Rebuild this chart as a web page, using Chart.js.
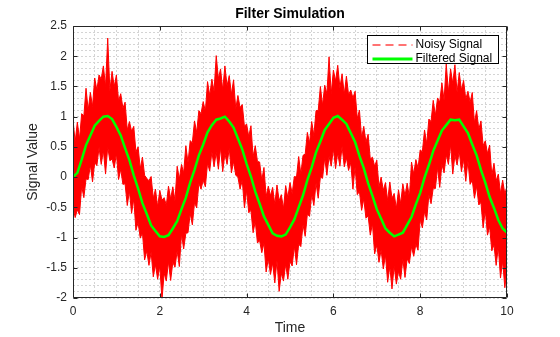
<!DOCTYPE html>
<html lang="en">
<head>
<meta charset="UTF-8">
<title>Filter Simulation</title>
<script src="https://cdn.jsdelivr.net/npm/chart.js"></script>
<style>
    html, body { margin: 0; padding: 0; background: #fff; }
    #chart { display: block; }
</style>
</head>
<body>
<canvas id="chart" width="560" height="337"></canvas>
<script>
    // samples every 0.1 s from 0 to 10
    const step = 0.1;

    // filtered signal
    const filtered = [
        0.00, 0.07, 0.29, 0.53, 0.69, 0.85, 0.93, 1.00, 1.01, 0.96,
        0.83, 0.69, 0.48, 0.28, 0.03, -0.19, -0.43, -0.61, -0.80, -0.89,
        -0.98, -0.99, -0.96, -0.85, -0.73, -0.53, -0.34, -0.09, 0.12, 0.36,
        0.54, 0.74, 0.86, 0.95, 0.97, 1.00, 0.92, 0.82, 0.64, 0.46,
        0.22, 0.01, -0.24, -0.44, -0.65, -0.79, -0.93, -0.97, -0.98, -0.95,
        -0.83, -0.70, -0.50, -0.30, -0.05, 0.16, 0.41, 0.59, 0.78, 0.88,
        0.98, 1.01, 0.95, 0.88, 0.73, 0.58, 0.35, 0.15, -0.10, -0.31,
        -0.53, -0.69, -0.85, -0.92, -0.98, -0.95, -0.92, -0.79, -0.66, -0.45,
        -0.26, -0.01, 0.20, 0.43, 0.60, 0.77, 0.86, 0.95, 0.94, 0.95,
        0.84, 0.73, 0.54, 0.36, 0.12, -0.09, -0.33, -0.51, -0.71, -0.85,
        -0.92
    ];

    // noisy signal, top edge of the red band
    // spikes at t = 0, 0.1, ...
    const noisyHigh = [
        0.95, 0.91, 1.05, 1.47, 1.40, 1.64, 1.69, 1.84, 2.30, 1.75,
        1.69, 1.38, 1.24, 0.92, 0.84, 0.50, 0.33, -0.02, 0.01, -0.20,
        -0.22, -0.34, -0.15, -0.16, 0.18, 0.21, 0.52, 0.60, 0.93, 1.10,
        1.25, 1.58, 1.62, 2.01, 1.79, 1.84, 1.68, 1.61, 1.35, 1.20,
        0.88, 0.85, 0.52, 0.25, 0.16, -0.15, -0.17, -0.13, -0.29, -0.14,
        -0.09, 0.01, 0.34, 0.36, 0.74, 0.92, 1.10, 1.50, 1.52, 1.99,
        1.77, 1.85, 1.71, 1.67, 1.44, 1.42, 1.11, 0.84, 0.71, 0.33,
        0.28, 0.00, -0.09, -0.08, -0.27, -0.21, -0.11, -0.10, 0.25, 0.29,
        0.45, 0.78, 0.96, 1.27, 1.31, 1.56, 1.87, 1.79, 1.86, 1.73,
        1.60, 1.42, 1.40, 1.10, 0.93, 0.60, 0.53, 0.23, 0.05, -0.05,
        -0.15
    ];
    // dips between them at t = 0.05, 0.15, ...
    const noisyHighDip = [
        0.58, 0.63, 1.01, 1.11, 1.17, 1.44, 1.62, 1.50, 1.43, 1.50,
        1.26, 1.14, 0.78, 0.76, 0.42, 0.14, 0.03, -0.06, -0.35, -0.49,
        -0.38, -0.47, -0.36, -0.39, -0.03, 0.07, 0.24, 0.57, 0.74, 1.05,
        1.09, 1.35, 1.42, 1.63, 1.44, 1.51, 1.37, 1.13, 1.15, 0.84,
        0.67, 0.34, 0.26, -0.05, -0.32, -0.31, -0.45, -0.39, -0.52, -0.34,
        -0.27, 0.00, 0.05, 0.38, 0.56, 0.69, 1.10, 1.19, 1.38, 1.38,
        1.59, 1.48, 1.37, 1.36, 1.31, 0.97, 0.65, 0.58, 0.30, 0.18,
        -0.16, -0.22, -0.39, -0.35, -0.52, -0.44, -0.31, -0.33, 0.05, 0.15,
        0.42, 0.55, 0.92, 1.02, 1.24, 1.27, 1.41, 1.55, 1.40, 1.44,
        1.29, 1.24, 0.90, 0.79, 0.52, 0.39, 0.03, -0.06, -0.27, -0.28
    ];

    // noisy signal, bottom edge of the red band
    // spikes at t = 0.05, 0.15, ...
    const noisyLow = [
        -0.67, -0.62, -0.34, -0.04, -0.08, 0.19, 0.21, 0.05, 0.27, 0.15,
        -0.04, -0.12, -0.47, -0.60, -0.88, -1.01, -1.37, -1.46, -1.65, -1.69,
        -2.03, -1.72, -1.71, -1.49, -1.48, -1.19, -0.92, -0.79, -0.51, -0.20,
        -0.16, 0.10, 0.17, 0.13, 0.09, 0.21, 0.07, 0.03, -0.20, -0.51,
        -0.59, -0.92, -1.09, -1.25, -1.57, -1.61, -1.75, -1.89, -1.72, -1.69,
        -1.47, -1.45, -1.15, -0.98, -0.65, -0.47, -0.35, -0.02, 0.03, 0.18,
        0.14, 0.18, 0.17, 0.11, -0.20, -0.29, -0.55, -0.68, -0.96, -1.27,
        -1.41, -1.52, -1.74, -1.85, -1.77, -1.69, -1.66, -1.43, -1.31, -1.21,
        -0.84, -0.71, -0.44, -0.19, -0.17, 0.07, 0.21, 0.05, 0.20, 0.09,
        -0.07, -0.12, -0.35, -0.46, -0.84, -0.96, -1.22, -1.46, -1.67, -1.83
    ];
    // dips between them at t = 0, 0.1, ...
    const noisyLowDip = [
        -0.50, -0.54, -0.15, -0.03, 0.20, 0.24, 0.49, 0.44, 0.50, 0.30,
        0.39, 0.13, -0.11, -0.23, -0.36, -0.75, -0.92, -1.22, -1.24, -1.45,
        -1.47, -1.59, -1.40, -1.41, -1.22, -0.94, -0.93, -0.60, -0.42, -0.10,
        -0.05, 0.23, 0.42, 0.41, 0.49, 0.39, 0.48, 0.26, 0.00, -0.05,
        -0.22, -0.55, -0.73, -1.05, -1.09, -1.35, -1.42, -1.38, -1.59, -1.44,
        -1.39, -1.14, -1.11, -0.79, -0.61, -0.28, -0.10, 0.00, 0.32, 0.34,
        0.47, 0.40, 0.51, 0.32, 0.24, 0.17, -0.24, -0.36, -0.64, -0.77,
        -1.12, -1.20, -1.29, -1.48, -1.47, -1.56, -1.36, -1.35, -1.15, -1.11,
        -0.70, -0.57, -0.29, -0.18, 0.16, 0.21, 0.37, 0.54, 0.36, 0.43,
        0.30, 0.27, -0.05, -0.15, -0.42, -0.55, -0.82, -1.12, -1.15, -1.39,
        -1.52
    ];

    const xTickLabels = [0, 2, 4, 6, 8, 10];
    const yTickLabels = [-2, -1.5, -1, -0.5, 0, 0.5, 1, 1.5, 2, 2.5];

    const textColor = '#262626';
    const noisyColor = '#ff0000';
    const filteredColor = '#00ff00';

    // edges of the noisy band: spikes alternate with the dips between them
    function edge(onGrid, between) {
        const pts = [];
        for (let i = 0; i < onGrid.length; i++) {
            pts.push({ x: i * step, y: onGrid[i] });
            if (i < between.length) pts.push({ x: i * step + step / 2, y: between[i] });
        }
        return pts;
    }
    const noisyTop = edge(noisyHigh, noisyHighDip);
    const noisyBottom = edge(noisyLowDip, noisyLow);
    const filteredPoints = filtered.map((v, i) => ({ x: i * step, y: v }));

    function isMajor(list, value) {
        return list.some(m => Math.abs(m - value) < 1e-6);
    }

    // box, inward ticks, title and legend drawn like the matlab figure
    const framePlugin = {
        id: 'frame',
        afterDraw(chart) {
            const { ctx, chartArea: a } = chart;
            const xs = chart.scales.x;
            const ys = chart.scales.y;
            const L = Math.round(a.left) + 0.5;
            const R = Math.round(a.right) - 0.5;
            const T = Math.round(a.top) + 0.5;
            const B = Math.round(a.bottom) - 0.5;

            ctx.save();
            ctx.strokeStyle = textColor;
            ctx.lineWidth = 1;
            ctx.beginPath();
            ctx.rect(L, T, R - L, B - T);
            xTickLabels.forEach(v => {
                const px = Math.round(xs.getPixelForValue(v)) + 0.5;
                ctx.moveTo(px, B); ctx.lineTo(px, B - 4);
                ctx.moveTo(px, T); ctx.lineTo(px, T + 4);
            });
            yTickLabels.forEach(v => {
                const py = Math.round(ys.getPixelForValue(v)) + 0.5;
                ctx.moveTo(L, py); ctx.lineTo(L + 4, py);
                ctx.moveTo(R, py); ctx.lineTo(R - 4, py);
            });
            ctx.stroke();

            // title
            ctx.fillStyle = '#000';
            ctx.font = "bold 14px 'Liberation Sans', Arial, sans-serif";
            ctx.textAlign = 'center';
            ctx.textBaseline = 'middle';
            ctx.fillText('Filter Simulation', (a.left + a.right) / 2, 14);

            // legend
            const lx = Math.round(a.right) - 139.5;
            const ly = Math.round(a.top) + 9.5;
            const lw = 131, lh = 28;
            ctx.fillStyle = '#fff';
            ctx.fillRect(lx, ly, lw, lh);
            ctx.strokeStyle = '#000';
            ctx.strokeRect(lx, ly, lw, lh);

            const rows = [
                { label: chart.data.datasets[0].label, color: 'rgba(255, 50, 50, 0.9)', width: 1.5, dash: [8, 5], y: ly + 9.5 },
                { label: chart.data.datasets[2].label, color: filteredColor, width: 3, dash: [], y: ly + 23.5 }
            ];
            ctx.textAlign = 'left';
            ctx.font = "12px 'Liberation Sans', Arial, sans-serif";
            rows.forEach(r => {
                ctx.beginPath();
                ctx.setLineDash(r.dash);
                ctx.strokeStyle = r.color;
                ctx.lineWidth = r.width;
                ctx.moveTo(lx + 5, r.y);
                ctx.lineTo(lx + 45, r.y);
                ctx.stroke();
                ctx.setLineDash([]);
                ctx.fillStyle = '#000';
                ctx.fillText(r.label, lx + 48, r.y);
            });
            ctx.restore();
        }
    };

    Chart.defaults.font.family = "'Liberation Sans', Arial, sans-serif";
    Chart.defaults.color = textColor;

    const chart = new Chart(document.getElementById('chart'), {
        type: 'line',
        data: {
            datasets: [
                {
                    label: 'Noisy Signal',
                    data: noisyTop,
                    borderColor: noisyColor,
                    backgroundColor: noisyColor,
                    borderWidth: 1,
                    pointRadius: 0,
                    tension: 0,
                    fill: '+1',
                    order: 2
                },
                {
                    label: 'Noisy Signal',
                    data: noisyBottom,
                    borderColor: noisyColor,
                    borderWidth: 1,
                    pointRadius: 0,
                    tension: 0,
                    fill: false,
                    order: 1
                },
                {
                    label: 'Filtered Signal',
                    data: filteredPoints,
                    borderColor: filteredColor,
                    borderWidth: 2.5,
                    pointRadius: 0,
                    tension: 0,
                    fill: false,
                    order: 0
                }
            ]
        },
        options: {
            responsive: false,
            animation: false,
            devicePixelRatio: 1,
            layout: { padding: { top: 26, right: 53, left: 0, bottom: 0 } },
            plugins: {
                legend: { display: false },
                title: { display: false },
                tooltip: { enabled: false }
            },
            scales: {
                x: {
                    type: 'linear',
                    min: 0,
                    max: 10,
                    afterFit(s) { s.height = 39; },
                    ticks: {
                        stepSize: 0.5,
                        autoSkip: false,
                        maxRotation: 0,
                        padding: 6,
                        font: { size: 12 },
                        callback: v => isMajor(xTickLabels, v) ? String(v) : ''
                    },
                    grid: { color: '#d4d4d4', lineWidth: 1, drawTicks: false },
                    border: { display: false, dash: [2, 2] },
                    title: {
                        display: true,
                        text: 'Time',
                        font: { size: 14 },
                        padding: { top: 0, bottom: 0 }
                    }
                },
                y: {
                    min: -2,
                    max: 2.5,
                    afterFit(s) { s.width = 73; },
                    ticks: {
                        stepSize: 0.1,
                        autoSkip: false,
                        padding: 6,
                        font: { size: 12 },
                        callback: v => isMajor(yTickLabels, v) ? String(Math.round(v * 10) / 10) : ''
                    },
                    grid: { color: '#d4d4d4', lineWidth: 1, drawTicks: false },
                    border: { display: false, dash: [2, 2] },
                    title: {
                        display: true,
                        text: 'Signal Value',
                        font: { size: 14 },
                        padding: { top: 25, bottom: 0 }
                    }
                }
            }
        },
        plugins: [framePlugin]
    });
</script>
</body>
</html>
